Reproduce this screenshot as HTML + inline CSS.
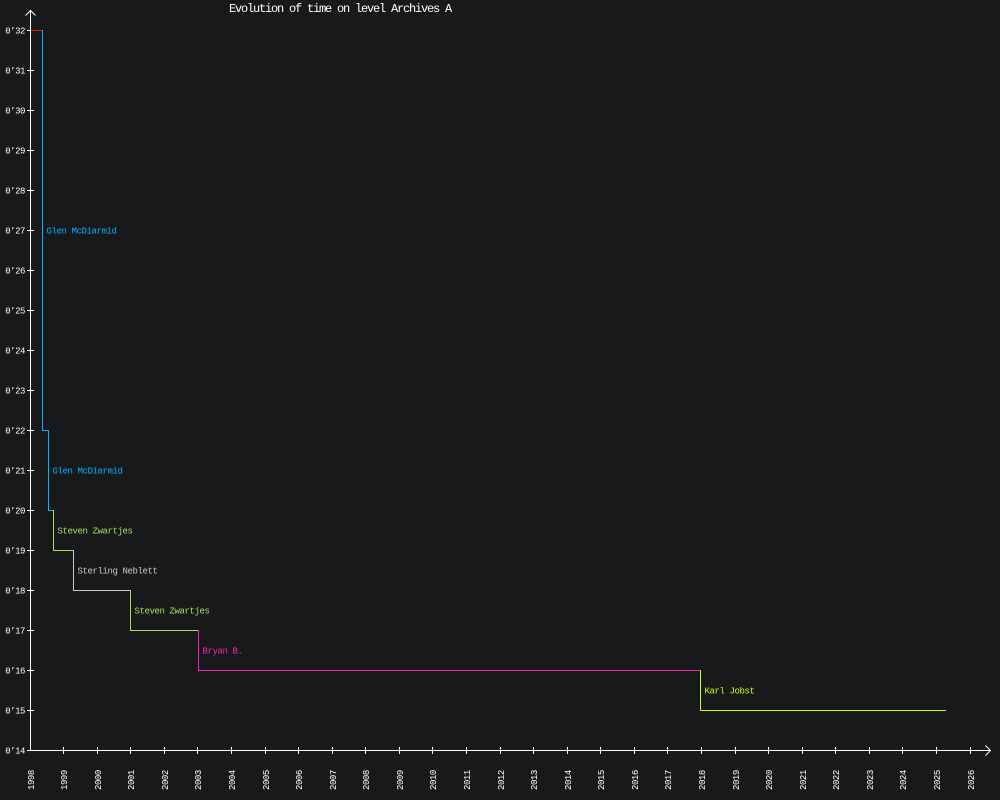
<!DOCTYPE html>
<html><head><meta charset="utf-8"><style>
html,body{margin:0;padding:0;background:#18191b;}
svg{display:block;}
text{font-family:"Liberation Mono","DejaVu Sans Mono",monospace;}
.t{font-size:9px;letter-spacing:-0.45px;fill:#ffffff;}
.l{font-size:9px;letter-spacing:-0.4px;}
</style></head><body>
<svg width="1000" height="800" viewBox="0 0 1000 800" xmlns="http://www.w3.org/2000/svg">
<rect width="1000" height="800" fill="#18191b"/>
<text x="229" y="12" font-size="12" letter-spacing="-1.2" fill="#ffffff">Evolution of time on level Archives A</text>
<g stroke="#ffffff" stroke-width="1" fill="none" shape-rendering="crispEdges">
<line x1="30.5" y1="10" x2="30.5" y2="750"/>
<line x1="30" y1="750.5" x2="990" y2="750.5"/>
</g>
<g stroke="#ffffff" stroke-width="1" fill="none">
<polyline points="25.5,15.5 30.5,10.5 35.5,15.5"/>
<polyline points="985.5,745.5 990.5,750.5 985.5,755.5"/>
</g>
<g stroke="#ffffff" stroke-width="1" shape-rendering="crispEdges">
<line x1="27" y1="30.5" x2="34" y2="30.5"/>
<line x1="27" y1="70.5" x2="34" y2="70.5"/>
<line x1="27" y1="110.5" x2="34" y2="110.5"/>
<line x1="27" y1="150.5" x2="34" y2="150.5"/>
<line x1="27" y1="190.5" x2="34" y2="190.5"/>
<line x1="27" y1="230.5" x2="34" y2="230.5"/>
<line x1="27" y1="270.5" x2="34" y2="270.5"/>
<line x1="27" y1="310.5" x2="34" y2="310.5"/>
<line x1="27" y1="350.5" x2="34" y2="350.5"/>
<line x1="27" y1="390.5" x2="34" y2="390.5"/>
<line x1="27" y1="430.5" x2="34" y2="430.5"/>
<line x1="27" y1="470.5" x2="34" y2="470.5"/>
<line x1="27" y1="510.5" x2="34" y2="510.5"/>
<line x1="27" y1="550.5" x2="34" y2="550.5"/>
<line x1="27" y1="590.5" x2="34" y2="590.5"/>
<line x1="27" y1="630.5" x2="34" y2="630.5"/>
<line x1="27" y1="670.5" x2="34" y2="670.5"/>
<line x1="27" y1="710.5" x2="34" y2="710.5"/>
<line x1="27" y1="750.5" x2="34" y2="750.5"/>
</g>
<g class="t" text-anchor="end">
<text x="25" y="33.5">0’32</text>
<text x="25" y="73.5">0’31</text>
<text x="25" y="113.5">0’30</text>
<text x="25" y="153.5">0’29</text>
<text x="25" y="193.5">0’28</text>
<text x="25" y="233.5">0’27</text>
<text x="25" y="273.5">0’26</text>
<text x="25" y="313.5">0’25</text>
<text x="25" y="353.5">0’24</text>
<text x="25" y="393.5">0’23</text>
<text x="25" y="433.5">0’22</text>
<text x="25" y="473.5">0’21</text>
<text x="25" y="513.5">0’20</text>
<text x="25" y="553.5">0’19</text>
<text x="25" y="593.5">0’18</text>
<text x="25" y="633.5">0’17</text>
<text x="25" y="673.5">0’16</text>
<text x="25" y="713.5">0’15</text>
<text x="25" y="753.5">0’14</text>
</g>
<g stroke="#ffffff" stroke-width="1" shape-rendering="crispEdges">
<line x1="63.5" y1="747" x2="63.5" y2="754"/>
<line x1="97.5" y1="747" x2="97.5" y2="754"/>
<line x1="130.5" y1="747" x2="130.5" y2="754"/>
<line x1="164.5" y1="747" x2="164.5" y2="754"/>
<line x1="197.5" y1="747" x2="197.5" y2="754"/>
<line x1="231.5" y1="747" x2="231.5" y2="754"/>
<line x1="265.5" y1="747" x2="265.5" y2="754"/>
<line x1="298.5" y1="747" x2="298.5" y2="754"/>
<line x1="332.5" y1="747" x2="332.5" y2="754"/>
<line x1="365.5" y1="747" x2="365.5" y2="754"/>
<line x1="399.5" y1="747" x2="399.5" y2="754"/>
<line x1="432.5" y1="747" x2="432.5" y2="754"/>
<line x1="466.5" y1="747" x2="466.5" y2="754"/>
<line x1="500.5" y1="747" x2="500.5" y2="754"/>
<line x1="533.5" y1="747" x2="533.5" y2="754"/>
<line x1="567.5" y1="747" x2="567.5" y2="754"/>
<line x1="600.5" y1="747" x2="600.5" y2="754"/>
<line x1="634.5" y1="747" x2="634.5" y2="754"/>
<line x1="667.5" y1="747" x2="667.5" y2="754"/>
<line x1="701.5" y1="747" x2="701.5" y2="754"/>
<line x1="735.5" y1="747" x2="735.5" y2="754"/>
<line x1="768.5" y1="747" x2="768.5" y2="754"/>
<line x1="802.5" y1="747" x2="802.5" y2="754"/>
<line x1="835.5" y1="747" x2="835.5" y2="754"/>
<line x1="869.5" y1="747" x2="869.5" y2="754"/>
<line x1="902.5" y1="747" x2="902.5" y2="754"/>
<line x1="936.5" y1="747" x2="936.5" y2="754"/>
<line x1="970.5" y1="747" x2="970.5" y2="754"/>
</g>
<g class="t">
<text transform="translate(34,790) rotate(-90)">1998</text>
<text transform="translate(67,790) rotate(-90)">1999</text>
<text transform="translate(101,790) rotate(-90)">2000</text>
<text transform="translate(134,790) rotate(-90)">2001</text>
<text transform="translate(168,790) rotate(-90)">2002</text>
<text transform="translate(201,790) rotate(-90)">2003</text>
<text transform="translate(235,790) rotate(-90)">2004</text>
<text transform="translate(269,790) rotate(-90)">2005</text>
<text transform="translate(302,790) rotate(-90)">2006</text>
<text transform="translate(336,790) rotate(-90)">2007</text>
<text transform="translate(369,790) rotate(-90)">2008</text>
<text transform="translate(403,790) rotate(-90)">2009</text>
<text transform="translate(436,790) rotate(-90)">2010</text>
<text transform="translate(470,790) rotate(-90)">2011</text>
<text transform="translate(504,790) rotate(-90)">2012</text>
<text transform="translate(537,790) rotate(-90)">2013</text>
<text transform="translate(571,790) rotate(-90)">2014</text>
<text transform="translate(604,790) rotate(-90)">2015</text>
<text transform="translate(638,790) rotate(-90)">2016</text>
<text transform="translate(671,790) rotate(-90)">2017</text>
<text transform="translate(705,790) rotate(-90)">2018</text>
<text transform="translate(739,790) rotate(-90)">2019</text>
<text transform="translate(772,790) rotate(-90)">2020</text>
<text transform="translate(806,790) rotate(-90)">2021</text>
<text transform="translate(839,790) rotate(-90)">2022</text>
<text transform="translate(873,790) rotate(-90)">2023</text>
<text transform="translate(906,790) rotate(-90)">2024</text>
<text transform="translate(940,790) rotate(-90)">2025</text>
<text transform="translate(974,790) rotate(-90)">2026</text>
</g>
<g fill="none" stroke-width="1" shape-rendering="crispEdges">
<polyline stroke="#ff1010" points="31,30.5 42,30.5"/>
<polyline stroke="#00b4ff" points="42.5,30 42.5,430.5 48.5,430.5 48.5,510.5 53,510.5"/>
<polyline stroke="#a6e05a" points="53.5,510 53.5,550.5 73,550.5"/>
<polyline stroke="#c8c8c8" points="73.5,550 73.5,590.5 130,590.5"/>
<polyline stroke="#a6e05a" points="130.5,590 130.5,630.5 198,630.5"/>
<polyline stroke="#ff22bb" points="198.5,630 198.5,670.5 700,670.5"/>
<polyline stroke="#ccff00" points="700.5,670 700.5,710.5 946,710.5"/>
</g>
<g class="l">
<text x="46.5" y="233.5" fill="#00b4ff">Glen McDiarmid</text>
<text x="52.5" y="473.5" fill="#00b4ff">Glen McDiarmid</text>
<text x="57.5" y="533.5" fill="#a6e05a">Steven Zwartjes</text>
<text x="77.5" y="573.5" fill="#c8c8c8">Sterling Neblett</text>
<text x="134.5" y="613.5" fill="#a6e05a">Steven Zwartjes</text>
<text x="202.5" y="653.5" fill="#ff22bb">Bryan B.</text>
<text x="704.5" y="693.5" fill="#ccff00">Karl Jobst</text>
</g>
</svg>
</body></html>
